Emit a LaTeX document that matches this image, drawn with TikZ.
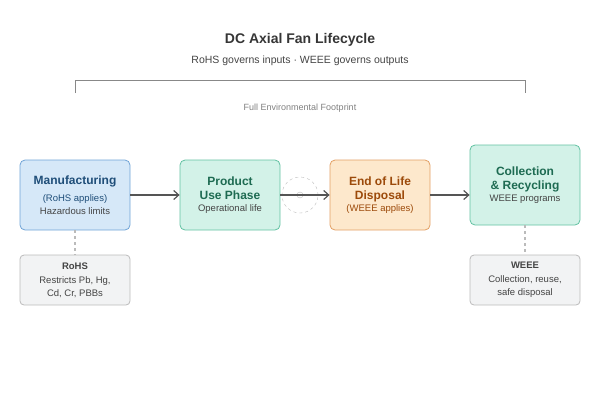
\documentclass[tikz,border=0pt]{standalone}
\usepackage{fontspec}
\setmainfont{Liberation Sans}
\usetikzlibrary{positioning, arrows.meta}
\definecolor{mfill}{HTML}{D6E8F8}
\definecolor{mdraw}{HTML}{6FA3D6}
\definecolor{mtext}{HTML}{1F4E79}
\definecolor{gfill}{HTML}{D3F2E8}
\definecolor{gdraw}{HTML}{62C2A2}
\definecolor{gtext}{HTML}{1E6B52}
\definecolor{ofill}{HTML}{FDE8CC}
\definecolor{odraw}{HTML}{E2A064}
\definecolor{otext}{HTML}{9C4A0A}
\definecolor{nfill}{HTML}{F2F3F4}
\definecolor{ndraw}{HTML}{BBBBBB}
\definecolor{ntext}{HTML}{444444}
\definecolor{flow}{HTML}{555555}
\newcommand{\headf}{\fontsize{12}{15}\selectfont\bfseries}
\newcommand{\subf}{\fontsize{9.5}{13}\selectfont}

\begin{document}
\begin{tikzpicture}[
	x=1pt, y=-1pt,
	stage/.style={rectangle, rounded corners=5pt, draw, line width=0.8pt, align=center, inner sep=0pt, text=ntext},
	note/.style={rectangle, rounded corners=4pt, draw=ndraw, fill=nfill, line width=0.8pt, minimum width=110pt, minimum height=50pt, align=center, font=\subf, text=ntext},
	flowarrow/.style={draw=flow, line width=1.2pt, -{Straight Barb[length=5pt, width=9pt]}},
	link/.style={draw=ndraw, line width=1.2pt, dashed},
	>=LaTeX
]
\useasboundingbox (0,0) rectangle (600,400);

\node[font=\fontsize{14}{16}\selectfont\bfseries, text=ntext!80!black] (title) at (300,40) {DC Axial Fan Lifecycle};
\node[font=\fontsize{10.5}{13}\selectfont, text=ntext] (subtitle) at (300,61) {RoHS governs inputs · WEEE governs outputs};

% footprint bracket
\coordinate (bl) at (75,93);
\coordinate (br) at (525,93);
\draw[draw=flow!70, line width=0.8pt] (bl) -- ++(0,-13) -| (br);
\node[font=\fontsize{9}{11}\selectfont, text=gray] (footprint) at (300,108) {Full Environmental Footprint};

\node[stage, fill=mfill, draw=mdraw, minimum width=110pt, minimum height=70pt] (manu) at (75,195)
	{\textcolor{mtext}{\headf Manufacturing}\\[5pt]{\subf\textcolor{mtext}{(RoHS applies)}}\\[1pt]{\subf Hazardous limits}};
\node[stage, fill=gfill, draw=gdraw, minimum width=100pt, minimum height=70pt] (use) at (230,195)
	{\textcolor{gtext}{\headf Product}\\[2pt]\textcolor{gtext}{\headf Use Phase}\\[0pt]{\subf Operational life}};
\node[stage, fill=ofill, draw=odraw, minimum width=100pt, minimum height=70pt] (eol) at (380,195)
	{\textcolor{otext}{\headf End of Life}\\[2pt]\textcolor{otext}{\headf Disposal}\\[0pt]{\subf\textcolor{otext}{(WEEE applies)}}};
\node[stage, fill=gfill, draw=gdraw, minimum width=110pt, minimum height=80pt] (recy) at (525,185)
	{\textcolor{gtext}{\headf Collection}\\[2pt]\textcolor{gtext}{\headf \& Recycling}\\[0pt]{\subf WEEE programs}};

\node[note] (rohs) at (75,280) {\textbf{RoHS}\\[1pt]Restricts Pb, Hg,\\[0pt]Cd, Cr, PBBs};
\node[note] (weee) at (525,280) {\textbf{WEEE}\\[1pt]Collection, reuse,\\[0pt]safe disposal};

% idle marker between use and disposal
\node[circle, draw=ndraw, dashed, minimum size=36pt, inner sep=0pt] (idle) at (300,195) {};
\node[circle, draw=ndraw, minimum size=6pt, inner sep=0pt] (idledot) at (idle) {};

\draw[flowarrow] (manu) -- (use);
\draw[flowarrow] (use) -- (eol);
\draw[flowarrow] (eol.east) -- (eol.east -| recy.west);

\draw[link] (manu) -- (rohs);
\draw[link] (recy) -- (weee);

\end{tikzpicture}
\end{document}
